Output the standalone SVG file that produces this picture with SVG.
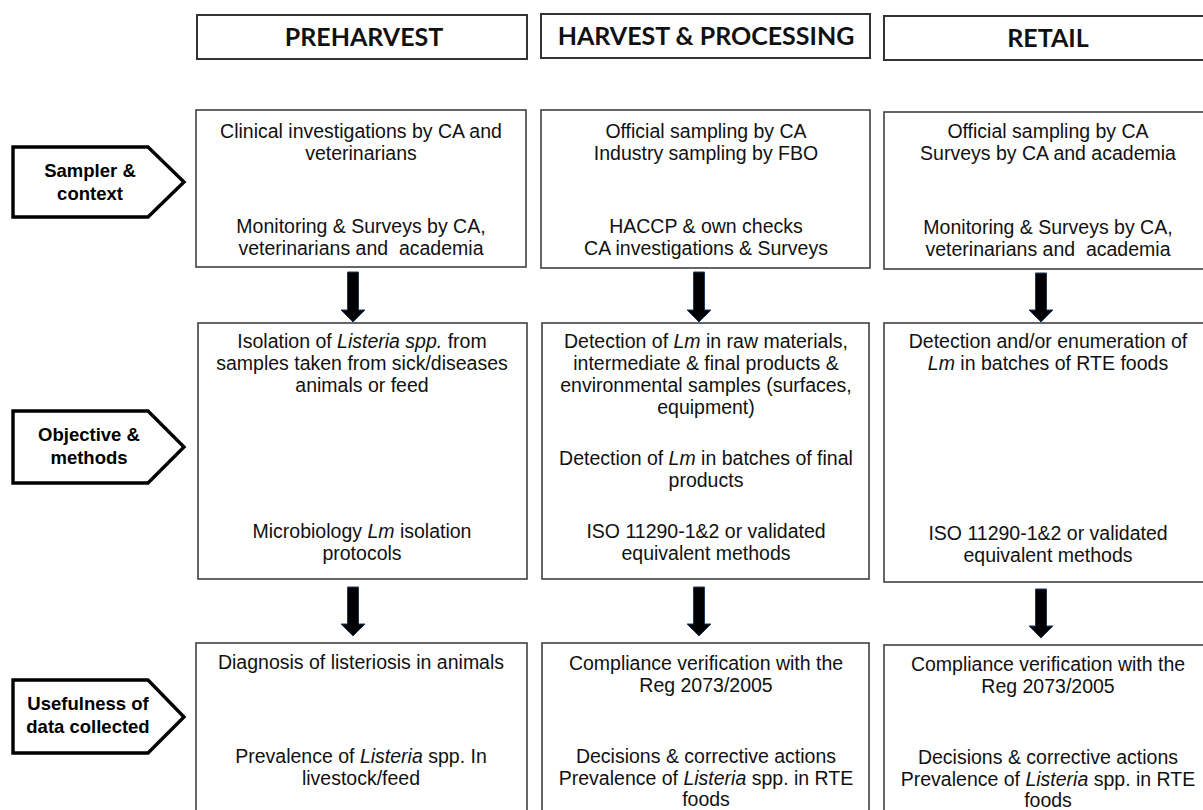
<svg xmlns="http://www.w3.org/2000/svg" width="1203" height="810" viewBox="0 0 1203 810">
<style>
.hdr{fill:#fff;stroke:#333;stroke-width:2}
.ht{font-family:Lato,"Open Sans","Liberation Sans",sans-serif;font-weight:700;font-size:25px;fill:#111;text-anchor:middle}
.box{fill:#fff;stroke:#404040;stroke-width:1.6}
.t{font-family:"Liberation Sans",Arial,sans-serif;font-size:19.5px;fill:#111;text-anchor:middle}
.i{font-style:italic}
.pent{fill:#fff;stroke:#000;stroke-width:3.4;stroke-linejoin:miter}
.lt{font-family:"Liberation Sans",Arial,sans-serif;font-weight:700;font-size:18.5px;fill:#000;text-anchor:middle}
.arr{fill:#000;stroke:#1f3864;stroke-width:1}
</style>

<g id="hdr-preharvest"><rect class="hdr" x="197" y="15" width="330" height="44"/><text class="ht" x="364" y="46">PREHARVEST</text></g>
<g id="hdr-harvest"><rect class="hdr" x="541" y="14" width="329" height="44"/><text class="ht" x="706" y="45">HARVEST &amp; PROCESSING</text></g>
<g id="hdr-retail"><rect class="hdr" x="884" y="16" width="330" height="44"/><text class="ht" x="1048" y="47">RETAIL</text></g>

<g id="lbl-sampler"><polygon class="pent" points="13,147 148,147 184,182 148,217 13,217"/><text class="lt" x="90" y="177">Sampler &amp;</text><text class="lt" x="90" y="200">context</text></g>
<g id="lbl-objective"><polygon class="pent" points="13,411 148,411 184,447 148,483 13,483"/><text class="lt" x="89" y="441">Objective &amp;</text><text class="lt" x="89" y="464">methods</text></g>
<g id="lbl-usefulness"><polygon class="pent" points="13,680 148,680 184,717 148,753 13,753"/><text class="lt" x="88" y="710">Usefulness of</text><text class="lt" x="88" y="733">data collected</text></g>

<g id="pre-sampler"><rect class="box" x="196" y="110" width="330" height="157"/>
<text class="t" x="361" y="138">Clinical investigations by CA and</text>
<text class="t" x="361" y="160">veterinarians</text>
<text class="t" x="361" y="233">Monitoring &amp; Surveys by CA,</text>
<text class="t" x="361" y="255" xml:space="preserve">veterinarians and  academia</text></g>

<g id="harv-sampler"><rect class="box" x="541" y="110" width="329" height="158"/>
<text class="t" x="706" y="138">Official sampling by CA</text>
<text class="t" x="706" y="160">Industry sampling by FBO</text>
<text class="t" x="706" y="233">HACCP &amp; own checks</text>
<text class="t" x="706" y="255">CA investigations &amp; Surveys</text></g>

<g id="ret-sampler"><rect class="box" x="884" y="112" width="330" height="157"/>
<text class="t" x="1048" y="138">Official sampling by CA</text>
<text class="t" x="1048" y="160">Surveys by CA and academia</text>
<text class="t" x="1048" y="234">Monitoring &amp; Surveys by CA,</text>
<text class="t" x="1048" y="256" xml:space="preserve">veterinarians and  academia</text></g>

<g id="pre-objective"><rect class="box" x="198" y="323" width="329" height="256"/>
<text class="t" x="362" y="348">Isolation of <tspan class="i">Listeria spp.</tspan> from</text>
<text class="t" x="362" y="370">samples taken from sick/diseases</text>
<text class="t" x="362" y="392">animals or feed</text>
<text class="t" x="362" y="538">Microbiology <tspan class="i">Lm</tspan> isolation</text>
<text class="t" x="362" y="560">protocols</text></g>

<g id="harv-objective"><rect class="box" x="542" y="323" width="327" height="256"/>
<text class="t" x="706" y="348">Detection of <tspan class="i">Lm</tspan> in raw materials,</text>
<text class="t" x="706" y="370">intermediate &amp; final products &amp;</text>
<text class="t" x="706" y="392">environmental samples (surfaces,</text>
<text class="t" x="706" y="414">equipment)</text>
<text class="t" x="706" y="465">Detection of <tspan class="i">Lm</tspan> in batches of final</text>
<text class="t" x="706" y="487">products</text>
<text class="t" x="706" y="538">ISO 11290-1&amp;2 or validated</text>
<text class="t" x="706" y="560">equivalent methods</text></g>

<g id="ret-objective"><rect class="box" x="884" y="323" width="330" height="259"/>
<text class="t" x="1048" y="348">Detection and/or enumeration of</text>
<text class="t" x="1048" y="370"><tspan class="i">Lm</tspan> in batches of RTE foods</text>
<text class="t" x="1048" y="540">ISO 11290-1&amp;2 or validated</text>
<text class="t" x="1048" y="562">equivalent methods</text></g>

<g id="pre-usefulness"><rect class="box" x="196" y="643" width="331" height="190"/>
<text class="t" x="361" y="669">Diagnosis of listeriosis in animals</text>
<text class="t" x="361" y="763">Prevalence of <tspan class="i">Listeria</tspan> spp. In</text>
<text class="t" x="361" y="785">livestock/feed</text></g>

<g id="harv-usefulness"><rect class="box" x="542" y="643" width="327" height="190"/>
<text class="t" x="706" y="670">Compliance verification with the</text>
<text class="t" x="706" y="692">Reg 2073/2005</text>
<text class="t" x="706" y="763">Decisions &amp; corrective actions</text>
<text class="t" x="706" y="785">Prevalence of <tspan class="i">Listeria</tspan> spp. in RTE</text>
<text class="t" x="706" y="806">foods</text></g>

<g id="ret-usefulness"><rect class="box" x="884" y="645" width="330" height="190"/>
<text class="t" x="1048" y="671">Compliance verification with the</text>
<text class="t" x="1048" y="693">Reg 2073/2005</text>
<text class="t" x="1048" y="764">Decisions &amp; corrective actions</text>
<text class="t" x="1048" y="786">Prevalence of <tspan class="i">Listeria</tspan> spp. in RTE</text>
<text class="t" x="1048" y="807">foods</text></g>

<g id="connectors">
<path class="arr" d="M347.5,272 H358.5 V310 H365 L353,322 L341,310 H347.5 Z"/>
<path class="arr" d="M693.5,272 H704.5 V310 H711 L699,322 L687,310 H693.5 Z"/>
<path class="arr" d="M1035.5,273 H1046.5 V310 H1053 L1041,322 L1029,310 H1035.5 Z"/>
<path class="arr" d="M347.5,587 H358.5 V624 H365 L353,636 L341,624 H347.5 Z"/>
<path class="arr" d="M693.5,587 H704.5 V624 H711 L699,636 L687,624 H693.5 Z"/>
<path class="arr" d="M1035.5,589 H1046.5 V626 H1053 L1041,638 L1029,626 H1035.5 Z"/>
</g>
</svg>
